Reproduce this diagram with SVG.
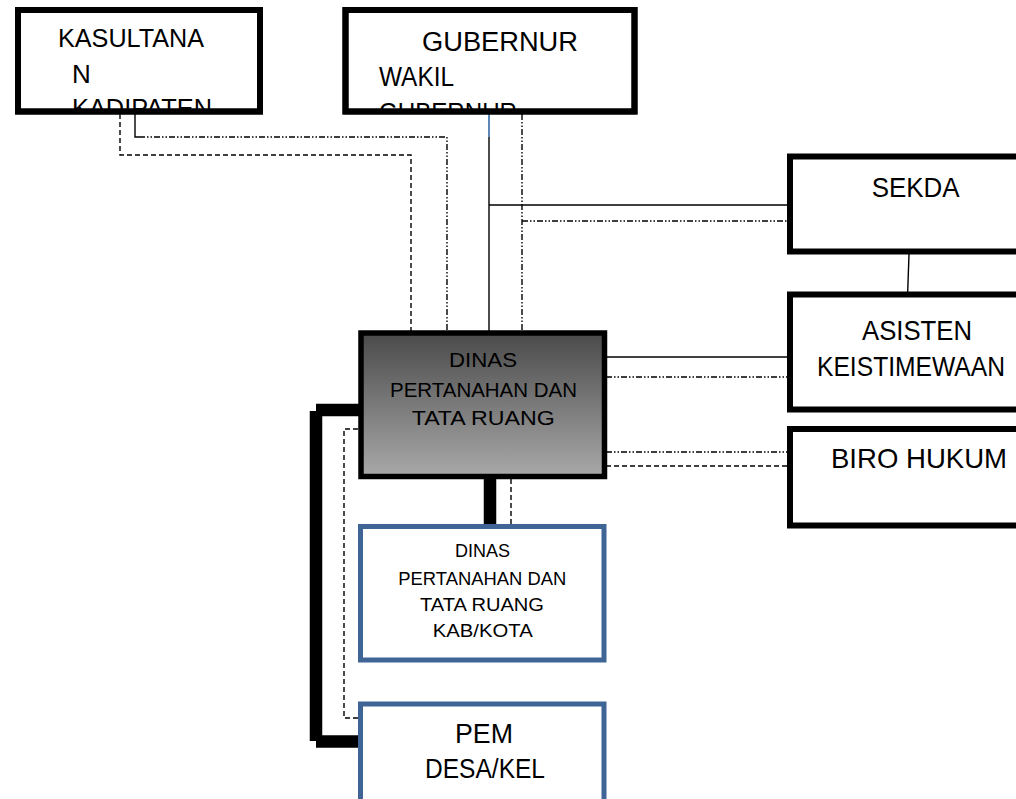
<svg xmlns="http://www.w3.org/2000/svg" width="1016" height="799" viewBox="0 0 1016 799">
<style>
.t{font-family:"Liberation Sans",Arial,sans-serif;fill:#000}
.bx{fill:#fff;stroke:#000;stroke-width:6}
.bl{fill:#fff;stroke:#3e6595;stroke-width:5}
.ln{fill:none;stroke:#000;stroke-width:1.4}
.dash{fill:none;stroke:#000;stroke-width:1.4;stroke-dasharray:5,3}
.dd{fill:none;stroke:#000;stroke-width:1.4;stroke-dasharray:6,2,1.5,2,1.5,2}
.thick{fill:none;stroke:#000;stroke-width:12.5}
</style>
<defs>
<linearGradient id="g" x1="0" y1="0" x2="0" y2="1">
<stop offset="0" stop-color="#4a4a4a"/>
<stop offset="1" stop-color="#a9a9a9"/>
</linearGradient>
<clipPath id="c1"><rect x="18" y="10" width="242" height="99"/></clipPath>
<clipPath id="c2"><rect x="345" y="10" width="289" height="99"/></clipPath>
</defs>
<g id="connectors">
<path class="dash" d="M120,114 V155 H411 V331"/>
<path class="ln" d="M135,114 V137 H139"/>
<path class="dd" d="M139,137 H447 V331"/>
<path class="ln" d="M489,114 V331 M489,205 H788"/>
<path d="M489,114 V137" stroke="#5a86b8" stroke-width="2" fill="none"/>
<path class="dd" d="M522,114 V331 M522,221 H788"/>
<path class="ln" d="M909,254 L907.7,292"/>
<path class="ln" d="M606,357 H788"/>
<path class="dd" d="M606,377 H788"/>
<path class="dd" d="M606,452 H788"/>
<path class="dash" d="M606,466 H788"/>
<path class="thick" d="M490,479 V524"/>
<path class="dash" d="M511,479 V524"/>
<path class="thick" d="M359,410 H316"/>
<path class="thick" d="M316,411 V741"/>
<path class="thick" d="M316,741.5 H359"/>
<path class="dash" d="M358,429 H344 V718 H358"/>
</g>
<g id="kasultanan">
<rect class="bx" x="18" y="10" width="242" height="101.5"/>
<g clip-path="url(#c1)">
<text class="t" x="58" y="47" font-size="26" textLength="146" lengthAdjust="spacingAndGlyphs">KASULTANA</text>
<text class="t" x="72" y="83" font-size="26">N</text>
<text class="t" x="72" y="117" font-size="26" textLength="140" lengthAdjust="spacingAndGlyphs">KADIPATEN</text>
</g>
<rect x="18" y="10" width="242" height="101.5" fill="none" stroke="#000" stroke-width="6"/>
</g>
<g id="gubernur">
<rect class="bx" x="345.5" y="10" width="289" height="101.5"/>
<g clip-path="url(#c2)">
<text class="t" x="422" y="51" font-size="27" textLength="156" lengthAdjust="spacingAndGlyphs">GUBERNUR</text>
<text class="t" x="379" y="86" font-size="27" textLength="75" lengthAdjust="spacingAndGlyphs">WAKIL</text>
<text class="t" x="379" y="121" font-size="26" textLength="138" lengthAdjust="spacingAndGlyphs">GUBERNUR</text>
</g>
<rect x="345.5" y="10" width="289" height="101.5" fill="none" stroke="#000" stroke-width="6"/>
</g>
<g id="sekda">
<rect class="bx" x="790" y="156.5" width="260" height="95" stroke-width="5.5"/>
<text class="t" x="871.7" y="196.7" font-size="28" textLength="88" lengthAdjust="spacingAndGlyphs">SEKDA</text>
</g>
<g id="asisten">
<rect class="bx" x="790" y="294.5" width="260" height="115" stroke-width="5.5"/>
<text class="t" x="862" y="340" font-size="28" textLength="110" lengthAdjust="spacingAndGlyphs">ASISTEN</text>
<text class="t" x="817" y="376" font-size="27" textLength="188" lengthAdjust="spacingAndGlyphs">KEISTIMEWAAN</text>
</g>
<g id="biro-hukum">
<rect class="bx" x="790" y="429" width="260" height="96.5" stroke-width="5.5"/>
<text class="t" x="831" y="468.3" font-size="28.5" textLength="176" lengthAdjust="spacingAndGlyphs">BIRO HUKUM</text>
</g>
<g id="dinas-prov">
<rect x="361" y="333" width="243.5" height="143.5" fill="url(#g)" stroke="#000" stroke-width="5.5"/>
<text class="t" x="449" y="366.7" font-size="21" fill="#111" textLength="68" lengthAdjust="spacingAndGlyphs">DINAS</text>
<text class="t" x="390" y="396.7" font-size="21" textLength="187" lengthAdjust="spacingAndGlyphs">PERTANAHAN DAN</text>
<text class="t" x="411.7" y="425" font-size="21" textLength="143" lengthAdjust="spacingAndGlyphs">TATA RUANG</text>
</g>
<g id="dinas-kab">
<rect class="bl" x="360.5" y="526.5" width="243.5" height="133.5"/>
<text class="t" x="455" y="557" font-size="18.5" textLength="55" lengthAdjust="spacingAndGlyphs">DINAS</text>
<text class="t" x="398.3" y="585" font-size="18.5" textLength="168" lengthAdjust="spacingAndGlyphs">PERTANAHAN DAN</text>
<text class="t" x="420" y="611" font-size="18.5" textLength="124" lengthAdjust="spacingAndGlyphs">TATA RUANG</text>
<text class="t" x="432.7" y="636.7" font-size="18.5" textLength="100" lengthAdjust="spacingAndGlyphs">KAB/KOTA</text>
</g>
<g id="pem-desa">
<rect class="bl" x="360.5" y="704" width="243.5" height="130"/>
<text class="t" x="455" y="743" font-size="27" textLength="58" lengthAdjust="spacingAndGlyphs">PEM</text>
<text class="t" x="425" y="778" font-size="27" textLength="120" lengthAdjust="spacingAndGlyphs">DESA/KEL</text>
</g>
</svg>
